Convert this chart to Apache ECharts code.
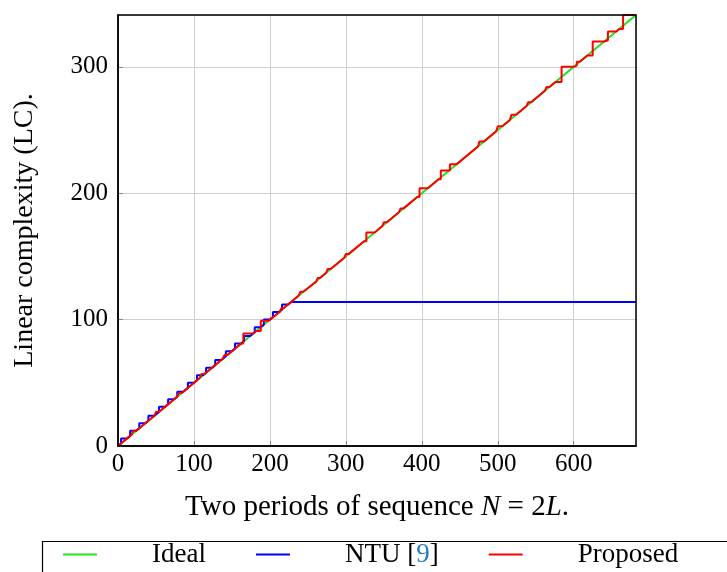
<!DOCTYPE html>
<html>
<head>
<meta charset="utf-8">
<script src="https://cdn.jsdelivr.net/npm/echarts@6/dist/echarts.min.js"></script>
<style>
	html, body { margin: 0; padding: 0; background: #fff; }
	#main { width: 727px; height: 572px; }
</style>
</head>
<body>
<div id="main"></div>
<script>
// ideal line LC = N/2
var idealN = [0, 682];
var idealLC = [0, 341];
// NTU [9] (vertices of the profile)
var ntuN = [0,
	4, 4, 12,
	16, 16, 24,
	28, 28, 36,
	40, 40, 48,
	54, 54, 62,
	66, 66, 74,
	78, 78, 86,
	92, 92, 100,
	104, 104, 112,
	116, 116, 124,
	128, 128, 136,
	142, 142, 150,
	154, 154, 162,
	166, 166, 174,
	180, 180, 188,
	192, 192, 200,
	204, 204, 212,
	216, 216, 224,
	228, 682];
var ntuLC = [0,
	2, 6, 6,
	8, 12, 12,
	14, 18, 18,
	20, 24, 24,
	27, 31, 31,
	33, 37, 37,
	39, 43, 43,
	46, 50, 50,
	52, 56, 56,
	58, 62, 62,
	64, 68, 68,
	71, 75, 75,
	77, 81, 81,
	83, 87, 87,
	90, 94, 94,
	96, 100, 100,
	102, 106, 106,
	108, 112, 112,
	114, 114];
// Proposed (vertices of the profile)
var propN = [0,
	18, 20, 20, 24,
	48, 50, 50, 54,
	78, 80, 80, 84,
	108, 110, 110, 114,
	138, 140, 140, 144,
	162, 165, 165, 178,
	182, 188, 188, 198,
	213, 215, 215, 218,
	238, 240, 240, 244,
	261, 263, 263, 266,
	274, 276, 276, 280,
	298, 300, 300, 304,
	324, 327, 327, 338,
	348, 350, 350, 354,
	370, 372, 372, 376,
	394, 397, 397, 408,
	422, 425, 425, 437, 437, 446,
	474, 476, 476, 482,
	498, 500, 500, 506,
	516, 518, 518, 524,
	538, 540, 540, 544,
	562, 564, 564, 568,
	576, 584, 584, 600,
	602, 604, 604, 608,
	618, 625, 625, 640,
	642, 645, 645, 656,
	660, 665, 665, 682];
var propLC = [0,
	9, 9, 12, 12,
	24, 24, 27, 27,
	39, 39, 42, 42,
	54, 54, 57, 57,
	69, 69, 72, 72,
	81, 81, 89, 89,
	91, 91, 99, 99,
	106, 106, 109, 109,
	119, 119, 122, 122,
	130, 130, 133, 133,
	137, 137, 140, 140,
	149, 149, 152, 152,
	162, 162, 169, 169,
	174, 174, 177, 177,
	185, 185, 188, 188,
	197, 197, 204, 204,
	211, 211, 218, 218, 223, 223,
	237, 237, 241, 241,
	249, 249, 253, 253,
	258, 258, 262, 262,
	269, 269, 272, 272,
	281, 281, 284, 284,
	288, 288, 300, 300,
	301, 301, 304, 304,
	309, 309, 320, 320,
	321, 321, 328, 328,
	330, 330, 341, 341];

function zip(a, b) {
	var out = [];
	for(var i = 0; i < a.length; i++) {
		out.push([a[i], b[i]]);
	}
	return out;
}

var serif = 'Liberation Serif';

var option = {
	animation: false,
	backgroundColor: '#fff',
	textStyle: { fontFamily: serif },
	grid: {
		left: 118,
		right: 91,
		top: 15,
		bottom: 126,
		show: true,
		borderColor: '#000',
		borderWidth: 1.5,
		z: 10
	},
	graphic: [{
		type: 'rect',
		left: 40,
		top: 539,
		shape: { width: 800, height: 80 },
		style: { fill: 'none', stroke: '#000', lineWidth: 1.2 }
	}],
	legend: {
		left: 63,
		top: 541,
		padding: [0, 0, 0, 0],
		itemWidth: 34,
		itemHeight: 28,
		itemGap: 50,
		icon: 'path://M0,13 L34,13 L34,15 L0,15 Z',
		textStyle: {
			fontFamily: serif,
			fontSize: 27,
			color: '#000',
			padding: [0, 0, 0, 50],
			rich: {
				t: { fontFamily: serif, fontSize: 27, color: '#000' },
				c: { fontFamily: serif, fontSize: 27, color: '#1f7fc0' }
			}
		},
		formatter: function(name) {
			if(name == 'NTU [9]') {
				return '{t|NTU [}{c|9}{t|]}';
			}
			return name;
		},
		data: ['Ideal', 'NTU [9]', 'Proposed']
	},
	xAxis: {
		type: 'value',
		min: 0,
		max: 682,
		interval: 100,
		name: '{a|Two periods of sequence }{i|N}{a| = 2}{i|L}{a|.}',
		nameLocation: 'middle',
		nameGap: 47,
		nameTextStyle: {
			rich: {
				a: { fontFamily: serif, fontSize: 29, color: '#000' },
				i: { fontFamily: serif, fontSize: 29, color: '#000', fontStyle: 'italic' }
			}
		},
		axisLine: { onZero: false, lineStyle: { color: '#000', width: 1.5 } },
		axisTick: { show: true, inside: true, length: 5, lineStyle: { color: '#888' } },
		axisLabel: {
			fontFamily: serif,
			fontSize: 25,
			color: '#000',
			margin: 6,
			showMaxLabel: false,
			formatter: function(v) {
				return v % 100 == 0 ? v : '';
			}
		},
		splitLine: { show: true, lineStyle: { color: '#cfcfcf', width: 1 } }
	},
	yAxis: {
		type: 'value',
		min: 0,
		max: 341,
		interval: 100,
		name: 'Linear complexity (LC).',
		nameLocation: 'middle',
		nameGap: 79,
		nameTextStyle: { fontFamily: serif, fontSize: 28, color: '#000' },
		axisLine: { onZero: false, lineStyle: { color: '#000', width: 1.5 } },
		axisTick: { show: true, inside: true, length: 5, lineStyle: { color: '#888' } },
		axisLabel: {
			fontFamily: serif,
			fontSize: 25,
			color: '#000',
			margin: 10,
			showMaxLabel: false,
			formatter: function(v) {
				return v % 100 == 0 ? v : '';
			}
		},
		splitLine: { show: true, lineStyle: { color: '#cfcfcf', width: 1 } }
	},
	series: [{
		name: 'Ideal',
		type: 'line',
		data: zip(idealN, idealLC),
		showSymbol: false,
		color: '#22e022',
		lineStyle: { width: 2, color: '#22e022' }
	}, {
		name: 'NTU [9]',
		type: 'line',
		data: zip(ntuN, ntuLC),
		showSymbol: false,
		color: '#0000ff',
		lineStyle: { width: 2, color: '#0000ff' }
	}, {
		name: 'Proposed',
		type: 'line',
		data: zip(propN, propLC),
		showSymbol: false,
		color: '#ff0000',
		lineStyle: { width: 2, color: '#ff0000' }
	}]
};

var chart = echarts.init(document.getElementById('main'));
chart.setOption(option);
</script>
</body>
</html>
